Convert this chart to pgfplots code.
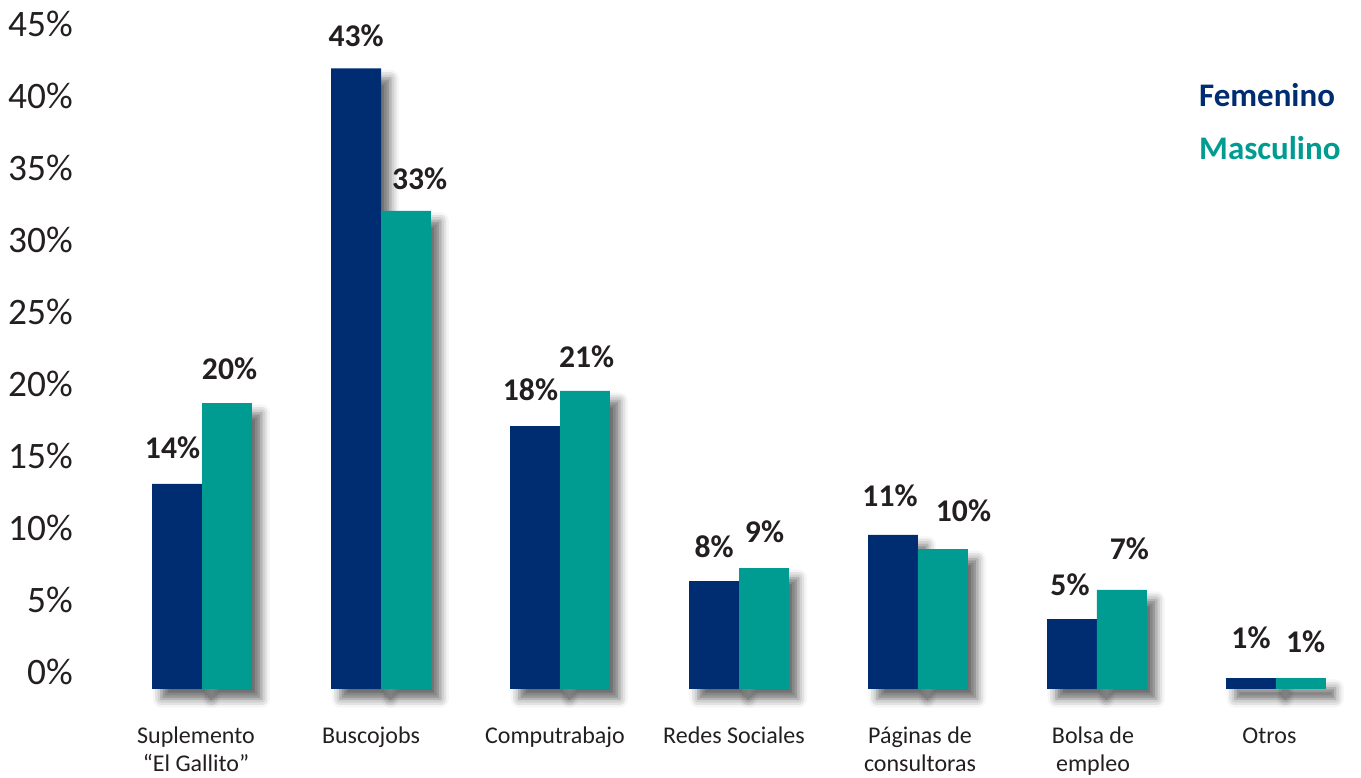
\documentclass[border=0pt]{standalone}
\usepackage{pgfplots}
\pgfplotsset{compat=1.18}
\usepackage{pgfplotstable}
\usepackage{fontspec}
\setmainfont{Carlito}
\usetikzlibrary{shadows.blur}
\definecolor{fem}{HTML}{002D72}
\definecolor{mas}{HTML}{009B91}
\definecolor{txt}{HTML}{231F20}
\newcommand\fl{\rule{0pt}{13pt}}
\newcommand\sh[1]{\hspace*{#1}}

% dx, gy: label offsets in pt (horizontal shift, gap above bar top)
\pgfplotstableread{
x fem femlab fdx fgy mas maslab mdx mgy
0 14.24 14 -3.4 18.75 19.86 20 1.9 18.0
1 43.10 43 0.0 16.5 33.20 33 10.3 15.75
2 18.26 18 -3.4 19.5 20.70 21 1.3 17.8
3 7.50 8 0.0 18.0 8.40 9 0.4 19.5
4 10.70 11 -2.25 21.2 9.72 10 15.4 20.5
5 4.86 5 -1.5 18.0 6.88 7 5.6 22.5
6 0.76 1 0.0 22.0 0.76 1 3.5 19.0
}\data

\begin{document}
\begin{tikzpicture}
\begin{axis}[
  at={(0,0)}, anchor=south west,
  scale only axis,
  width=945.75pt, height=516.75pt,
  xmin=-0.570, xmax=6.475,
  ymin=0, ymax=47.85,
  clip=false,
  ybar, bar width=0.279,
  axis line style={draw=none},
  major tick length=0pt,
  ytick={0,5,...,45},
  yticklabel={\pgfmathprintnumber[assume math mode=true]{\tick}\%},
  yticklabel style={anchor=east, inner sep=0pt, xshift=-20.25pt, yshift=13pt,
    font=\fontsize{28}{30}\selectfont, text=txt},
  xtick={0,...,6},
  xticklabels={{\fl Suplemento\sh{9pt}\\“El Gallito”\sh{9pt}},{\fl Buscojobs\sh{15pt}},{\fl Computrabajo\sh{7.5pt}},{\fl Redes Sociales\sh{7.5pt}},{\fl Páginas de\sh{-3pt}\\consultoras\sh{-3pt}},{\fl Bolsa de\sh{6pt}\\empleo\sh{6pt}},{\fl Otros\sh{9.8pt}}},
  xticklabel style={anchor=north, inner sep=0pt, yshift=-27.6pt, align=center,
    font=\fontsize{18}{21}\selectfont, text=txt},
]
% shadows
\addplot[forget plot, draw=none, fill=none, bar shift=-0.1395,
  blur shadow={shadow xshift=7pt, shadow yshift=-7.5pt, shadow blur radius=6.5pt, shadow opacity=58}]
  table[x=x, y=fem]{\data};
\addplot[forget plot, draw=none, fill=none, bar shift=0.1395,
  blur shadow={shadow xshift=7pt, shadow yshift=-7.5pt, shadow blur radius=6.5pt, shadow opacity=58}]
  table[x=x, y=mas]{\data};
% bars
\addplot[draw=none, fill=fem, bar shift=-0.1395,
  point meta=explicit symbolic,
  visualization depends on={\thisrow{fdx} \as \ldx},
  visualization depends on={\thisrow{fgy} \as \lgy},
  nodes near coords={\pgfplotspointmeta\%},
  every node near coord/.append style={font=\fontsize{23.7}{24}\bfseries\selectfont,
    text=txt, anchor=base, inner sep=0pt, xshift=\ldx pt, yshift=\lgy pt}]
  table[x=x, y=fem, meta=femlab]{\data};
\addplot[draw=none, fill=mas, bar shift=0.1395,
  point meta=explicit symbolic,
  visualization depends on={\thisrow{mdx} \as \ldx},
  visualization depends on={\thisrow{mgy} \as \lgy},
  nodes near coords={\pgfplotspointmeta\%},
  every node near coord/.append style={font=\fontsize{23.7}{24}\bfseries\selectfont,
    text=txt, anchor=base, inner sep=0pt, xshift=\ldx pt, yshift=\lgy pt}]
  table[x=x, y=mas, meta=maslab]{\data};
% legend text
\node[anchor=base west, inner sep=0pt, text=fem, font=\fontsize{24.7}{25}\bfseries\selectfont]
  at (rel axis cs:0.8715,0.8451) {Femenino};
\node[anchor=base west, inner sep=0pt, text=mas, font=\fontsize{24.7}{25}\bfseries\selectfont]
  at (rel axis cs:0.8715,0.7678) {Masculino};
\end{axis}
\pgfresetboundingbox
\path (-75pt,-66.75pt) rectangle (945.75pt,516.75pt);
\end{tikzpicture}
\end{document}
